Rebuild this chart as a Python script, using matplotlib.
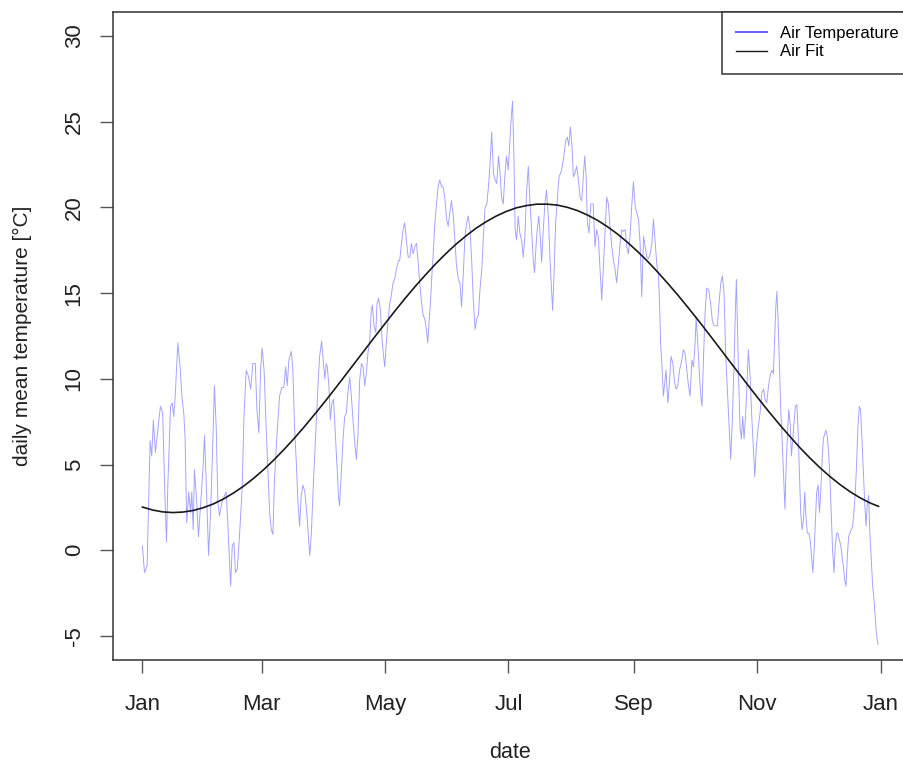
import matplotlib
matplotlib.use("Agg")
import matplotlib.pyplot as plt

plt.rcParams['font.family'] = ['Liberation Sans', 'DejaVu Sans']

# ---- data (day of year, daily mean air temperature) ----
days = [
    0.0, 1.0, 2.3, 3.8, 4.6, 5.4, 6.4, 7.3, 8.9, 10.0, 11.2, 11.9, 12.5, 13.9, 14.7, 15.5, 16.2, 17.5,
    18.6, 19.5, 20.5, 21.1, 21.9, 22.9, 23.8, 24.4, 25.1, 25.7, 26.7, 27.7, 29.0, 29.9, 30.7, 31.5,
    32.7, 33.7, 34.8, 35.6, 36.5, 37.3, 38.1, 39.3, 40.6, 41.4, 42.2, 43.6,
    44.4, 45.2, 46.0, 46.9, 48.0, 49.3, 50.2, 51.3, 52.3, 53.5, 54.6, 55.8, 56.6, 57.6, 58.4, 59.2,
    60.2, 61.2, 62.1, 62.9, 63.7, 64.5, 65.3, 66.5, 67.8, 68.9, 69.9, 70.8, 71.6, 72.4, 73.6, 74.4,
    75.2, 76.1, 76.9, 77.7, 78.5, 79.4, 80.3, 81.4, 82.7, 83.5, 84.6, 85.9, 86.9, 87.6, 88.6, 89.4,
    90.2, 90.9,
    91.4, 92.2, 92.9, 93.7, 94.5, 95.4, 96.2, 97.0, 97.5, 98.3, 99.2, 100.0, 100.8, 101.6, 102.5,
    103.3, 104.1, 105.1, 105.8, 106.6, 107.4, 108.3, 109.1, 109.9, 110.7, 111.5, 112.4, 113.2, 113.7,
    114.5, 115.4, 116.0, 116.8, 117.7, 118.6, 119.8, 120.6, 121.4, 122.3, 123.1, 123.9, 124.7, 125.6,
    126.6, 127.2, 128.1, 128.9, 129.7, 130.5, 131.4,
    132.2, 133.0, 133.8, 134.7, 135.5, 136.3, 137.1, 137.9, 138.8, 139.6, 140.4, 141.1, 141.7, 142.4,
    143.1, 143.7, 144.6, 145.4, 146.2, 147.0, 147.9, 148.7, 149.5, 150.4, 151.2, 152.0, 152.8, 153.7,
    154.5, 155.3, 156.2, 157.0, 157.8, 158.6, 159.5, 160.3, 161.1, 162.0, 162.8, 163.6, 164.5, 165.3,
    166.1, 166.9, 167.8, 168.6, 169.4, 170.3, 171.1, 171.9, 172.7, 173.6, 174.4, 175.2,
    176.1, 176.9, 177.6, 178.4, 179.2, 180.0, 180.9, 181.7, 182.3, 183.0, 183.7, 184.3, 185.0, 185.8,
    186.6, 187.5, 188.3, 189.1, 189.9, 190.8, 191.6, 192.4, 193.3, 193.9, 194.6, 195.2, 196.0, 196.7,
    197.4, 198.2, 199.0, 199.8, 200.7, 201.5, 202.3, 202.8, 203.5, 204.3, 205.1, 206.0, 206.8, 207.6,
    208.4, 209.3, 210.1, 210.8, 211.6, 212.4, 213.1, 213.9, 214.7, 215.6, 216.4, 217.2, 218.0, 218.7,
    219.4, 220.0, 220.8, 221.7,
    222.9, 223.8, 224.6, 225.4, 226.3, 227.1, 227.9, 228.8, 229.6, 230.4, 231.2, 232.1, 232.9, 233.7,
    234.5, 235.4, 236.2, 237.0, 237.8, 238.7, 239.5, 240.3, 241.1, 242.0, 242.8, 243.6, 244.4, 245.3,
    246.1, 246.9, 247.8, 248.6, 249.4, 250.2, 251.1, 251.9, 252.7, 253.6, 254.4, 255.2, 255.7, 256.3,
    257.0, 257.6, 258.3, 258.9, 259.8, 260.6, 261.4, 262.3, 263.1, 263.9, 264.7, 265.6,
    266.7, 267.5, 268.3, 269.2, 270.0, 270.8, 271.7, 272.5, 273.3, 273.8, 274.5, 275.3, 276.1, 276.7,
    277.4, 278.2, 279.0, 280.0, 281.0, 281.8, 282.7, 283.5, 284.3, 285.1, 286.0, 286.8, 287.6, 288.4,
    289.3, 290.1, 290.9, 291.8, 292.6, 293.2, 293.7, 294.2, 294.9, 295.5, 296.2, 296.8, 297.5, 298.1,
    298.8, 299.6, 300.5, 301.3, 302.1, 302.8, 303.6, 304.5, 305.4, 306.3, 307.1, 307.9, 308.7, 309.6,
    310.4, 311.2, 312.0, 312.5, 313.2, 313.7, 314.3, 315.0, 315.7, 316.3, 317.0, 317.7, 318.3, 319.0,
    319.6, 320.3, 320.9, 321.6, 322.3, 322.9, 323.6, 324.2, 324.9, 325.5, 326.2, 326.9, 327.5, 328.2,
    328.8, 329.5, 330.2, 330.8, 331.5, 332.1, 332.8, 333.4, 334.1, 334.8, 335.4, 336.1, 336.7, 337.4,
    338.0, 338.7, 339.3, 340.0, 340.7, 341.3, 342.0, 342.6, 343.3, 343.9, 344.6, 345.3, 345.9, 346.6,
    347.2, 347.9, 348.5, 349.2, 349.8, 350.5, 351.2, 351.8, 352.5, 353.1, 353.8, 354.5, 355.1, 355.8,
    356.4, 357.1, 357.8, 358.4, 359.1, 359.7, 360.4, 361.1, 361.7, 362.4, 363.0, 363.7,
]

air_temp = [
    0.25, -1.3, -0.9, 6.4, 5.5, 7.6, 5.7, 6.7, 8.4, 8.0, 2.8, 0.5, 3.6, 8.4, 8.6, 7.8, 9.0, 12.1,
    10.7, 9.0, 7.9, 6.5, 1.6, 3.4, 2.2, 3.4, 1.2, 4.7, 3.1, 0.8, 3.1, 4.7, 6.7, 4.1,
    -0.3, 2.2, 6.3, 9.6, 7.1, 2.8, 2.0, 2.8, 3.2, 3.4, 1.6, -2.1,
    0.25, 0.45, -1.3, -1.1, 0.85, 3.6, 7.8, 10.5, 10.2, 9.4, 10.9, 10.9, 8.2, 6.85, 10.5, 11.8,
    10.4, 7.05, 4.5, 2.2, 1.2, 0.93, 4.1, 6.7, 9.0, 9.5, 9.5, 10.7, 9.6, 11.1, 11.6, 10.5,
    7.2, 5.1, 2.8, 1.4, 3.2, 3.8, 3.4, 2.0, -0.3, 0.9, 4.1, 7.4, 9.8, 11.3, 12.2, 11.1,
    10.0, 10.9,
    10.7, 9.6, 7.6, 8.6, 8.8, 6.8, 4.9, 3.0, 2.6, 4.5, 6.5, 7.8, 8.0, 9.2, 10.1,
    9.0, 7.6, 6.1, 5.3, 6.8, 9.9, 10.9, 10.7, 9.6, 10.3, 11.5, 12.3, 14.0, 14.3,
    13.1, 12.7, 14.4, 14.7, 14.0, 12.1, 10.7, 12.1, 13.3, 14.4, 14.9, 15.6, 15.8, 16.4,
    16.9, 16.9, 17.9, 18.7, 19.1, 18.1, 17.1,
    17.1, 17.9, 17.3, 17.7, 17.9, 16.9, 15.6, 14.6, 13.7, 13.5, 12.9, 12.1, 13.3, 14.4,
    16.0, 17.1, 19.1, 20.2, 21.2, 21.6, 21.2, 21.2, 20.6, 19.3, 18.9, 19.7, 20.4, 19.5,
    18.1, 16.6, 15.8, 15.6, 14.2, 16.0, 18.3, 19.1, 19.5, 18.7, 16.9, 14.6, 12.9, 13.5,
    13.7, 15.2, 16.4, 18.3, 20.0, 20.2, 21.2, 22.6, 24.4, 22.0, 21.6, 21.4,
    23.0, 21.9, 20.6, 20.2, 21.8, 23.0, 22.2, 23.9, 25.1, 26.2, 23.0, 18.7, 18.1, 19.5,
    18.5, 18.1, 17.1, 18.3, 20.8, 22.4, 20.4, 18.7, 16.9, 16.2, 17.7, 18.7, 19.5, 18.3,
    16.8, 18.7, 20.2, 21.0, 19.5, 17.1, 15.2, 14.0, 16.0, 19.1, 20.4, 21.8, 22.0, 22.4,
    23.0, 23.9, 24.1, 23.6, 24.7, 23.6, 21.8, 22.0, 22.4, 21.6, 20.6, 20.4, 21.8, 23.0,
    21.8, 19.1, 18.5, 20.2,
    20.2, 17.7, 18.7, 18.3, 16.4, 14.6, 16.4, 18.7, 20.6, 20.2, 18.9, 17.7, 16.9, 16.4,
    15.6, 16.8, 17.9, 18.7, 18.6, 18.7, 17.7, 17.3, 18.3, 20.2, 21.5, 20.1, 19.7, 19.3,
    17.9, 14.8, 18.3, 17.7, 17.1, 17.0, 17.3, 17.9, 19.3, 17.9, 16.6, 16.0, 14.4, 11.9,
    10.5, 9.0, 9.8, 10.5, 8.6, 9.8, 11.3, 10.9, 9.8, 9.4, 9.6, 10.5,
    11.1, 11.7, 11.5, 10.5, 9.6, 9.0, 11.1, 10.7, 12.1, 13.6, 12.3, 10.5, 9.0, 8.4,
    11.1, 13.8, 15.3, 15.2, 14.4, 13.4, 13.1, 13.1, 13.1, 14.4, 15.6, 16.0, 15.0, 11.5,
    9.2, 7.2, 5.3, 8.0, 11.1, 14.0, 15.8, 13.1, 9.6, 7.2, 6.5, 7.8, 6.5, 7.6,
    9.2, 11.7, 10.1, 7.8, 5.9, 4.3, 6.1, 7.2, 8.0, 9.2, 9.4, 8.8, 8.6, 9.6,
    10.2, 10.5, 10.3, 11.9, 14.2, 15.1, 13.5, 10.7, 8.0, 6.5, 4.5, 2.4, 4.9, 6.9,
    8.2, 7.4, 5.5, 6.5, 7.6, 8.4, 8.5, 7.0, 4.5, 2.2, 1.2, 1.8, 3.4, 1.8,
    1.0, 1.0, 0.6, -0.3, -1.3, -0.1, 1.8, 3.4, 3.8, 2.2, 3.4, 5.3, 6.5, 6.8,
    7.0, 6.6, 5.7, 4.1, 1.8, -0.1, -1.3, 0.3, 1.0, 1.0, 0.6, 0.3, -0.3, -0.9,
    -1.7, -2.1, -0.5, 0.8, 1.0, 1.2, 1.4, 2.2, 3.4, 4.9, 7.2, 8.4, 8.2, 6.5,
    4.9, 2.9, 1.4, 2.6, 3.2, 1.0, -0.5, -2.1, -2.8, -4.0, -4.9, -5.5,
]

# sinusoidal fit curve, values read every 5 days
fit_days = [0, 5, 10, 15, 20, 25, 30, 35, 40, 45, 50, 55, 60, 65, 70, 75, 80, 85, 90, 95,
            100, 105, 110, 115, 120, 125, 130, 135, 140, 145, 150, 155, 160, 165, 170, 175,
            180, 185, 190, 195, 200, 205, 210, 215, 220, 225, 230, 235, 240, 245, 250, 255,
            260, 265, 270, 275, 280, 285, 290, 295, 300, 305, 310, 315, 320, 325, 330, 335,
            340, 345, 350, 355, 360, 364]
fit_vals = [2.52, 2.35, 2.24, 2.20, 2.23, 2.32, 2.48, 2.70, 2.99, 3.34, 3.74, 4.20, 4.71,
            5.27, 5.88, 6.52, 7.20, 7.91, 8.64, 9.39, 10.16, 10.93, 11.70, 12.47, 13.23,
            13.98, 14.71, 15.41, 16.07, 16.71, 17.30, 17.85, 18.34, 18.79, 19.17, 19.50,
            19.77, 19.98, 20.11, 20.19, 20.19, 20.14, 20.01, 19.82, 19.56, 19.25, 18.87,
            18.44, 17.95, 17.41, 16.83, 16.20, 15.54, 14.85, 14.13, 13.39, 12.63, 11.86,
            11.08, 10.31, 9.54, 8.79, 8.05, 7.34, 6.66, 6.00, 5.39, 4.82, 4.30, 3.83, 3.41,
            3.05, 2.75, 2.56]

month_ticks = [0, 59, 120, 181, 243, 304, 365]
month_labels = ["Jan", "Mar", "May", "Jul", "Sep", "Nov", "Jan"]
y_ticks = [-5, 0, 5, 10, 15, 20, 25, 30]

# ---- figure ----
W, H = 904, 763
fig = plt.figure(figsize=(W / 100, H / 100), dpi=100)
left, right, top, bottom = 113, 908, 12, 660
ax = fig.add_axes([left / W, (H - bottom) / H, (right - left) / W, (bottom - top) / H])

ax.plot(days, air_temp, color='#0000ff', alpha=0.36, lw=0.7, label='Air Temperature')
ax.plot(fit_days, fit_vals, color='#1a1a1a', lw=1.2, label='Air Fit')

ax.set_xlim(-14.56, 378.56)
ax.set_ylim(-6.4, 31.4)

ax.set_xticks(month_ticks)
ax.set_xticklabels(month_labels)
ax.set_yticks(y_ticks)
ax.set_yticklabels([str(v) for v in y_ticks], rotation=90, va='center')

for s in ax.spines.values():
    s.set_linewidth(1.1)
    s.set_color('#333333')

ax.tick_params(axis='both', direction='out', length=9.4, width=1.0, color='#555555',
               labelsize=16, labelcolor='#222222')
ax.tick_params(axis='x', pad=15)
ax.tick_params(axis='y', pad=11)

ax.set_xlabel('date', fontsize=15.5, color='#222222')
ax.set_ylabel('daily mean temperature [°C]', fontsize=15, color='#222222')
ax.xaxis.set_label_coords((510 - left) / (right - left), -(752 - bottom) / (bottom - top))
ax.xaxis.label.set_va('center')
ax.yaxis.set_label_coords(-(left - 22) / (right - left), 0.5)
ax.yaxis.label.set_va('center')

leg = ax.legend(loc='upper right', bbox_to_anchor=((913 - left) / (right - left), 1.0),
                borderaxespad=0.0, fontsize=12, frameon=True, fancybox=False,
                framealpha=1.0, edgecolor='#333333', handlelength=1.86,
                handletextpad=0.8, labelspacing=0.2, borderpad=0.85)
leg.get_frame().set_linewidth(1.1)
leg_lines = leg.get_lines()
leg_lines[0].set_alpha(0.6)
leg_lines[0].set_linewidth(1.5)
leg_lines[1].set_linewidth(1.0)

fig.savefig('out.png', dpi=100)
